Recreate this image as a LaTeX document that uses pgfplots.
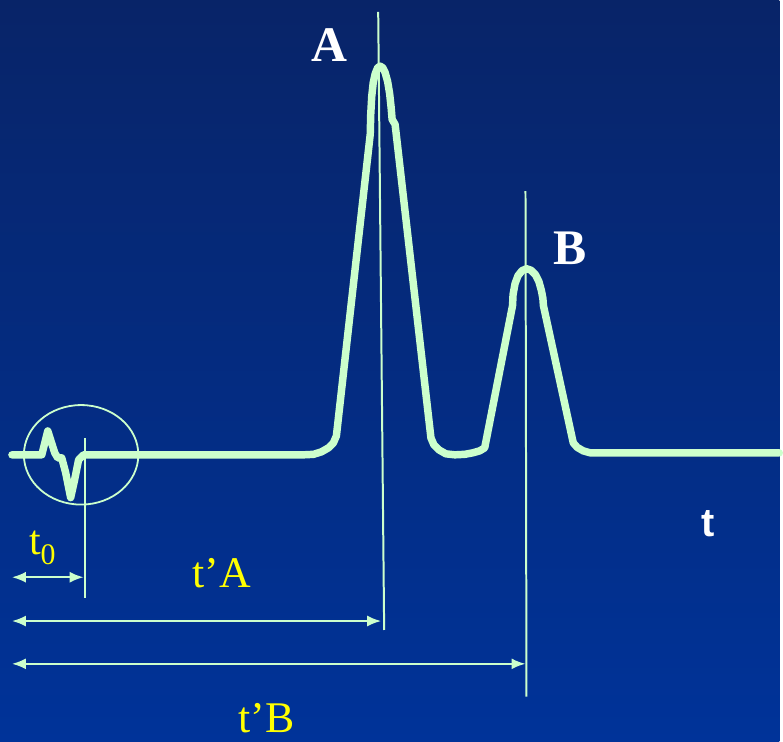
\documentclass[border=0pt]{standalone}
\usepackage{pgfplots}
\pgfplotsset{compat=1.18}
\usepackage{fontspec}
\setmainfont{Liberation Serif}
\newfontfamily\arialb{Liberation Sans}[BoldFont={* Bold}]
\usetikzlibrary{arrows.meta}
\definecolor{trace}{RGB}{204,255,204}
\definecolor{bgtop}{RGB}{8,36,104}
\definecolor{bgmid}{RGB}{0,48,142}
\definecolor{bgbot}{RGB}{0,51,153}
\definecolor{ylw}{RGB}{255,255,0}
\begin{document}
\begin{tikzpicture}
\begin{axis}[
  width=783pt, height=745pt, scale only axis,
  xmin=0, xmax=783, ymin=0, ymax=745, y dir=reverse,
  hide axis, clip=false,
]
\fill[top color=bgtop, middle color=bgmid, bottom color=bgbot, shading angle=0]
  (axis cs:0,0) rectangle (axis cs:783,745);
% chromatogram trace
\addplot[trace, line width=7.5pt, line join=round, line cap=round] coordinates {
(12,457)(42,457)(48,433)(55,455)(58,460)(62,460)(66,475)(71,500)(75,482)(79,462)(84,457)
(305,457)(315,456.5)(323,454)(330,450)(335,445)(338,438)
(372,135)(372.5,115)(373.5,97)(375,83)(377,74)(379.5,68)(382,66.5)(384.5,68)(387,73)(389.5,82)(391.5,94)(393,108)(394,120)(397,125)
(433,440)(436,447)(441,452)(448,456)(457,457)(467,456.5)(475,455)(482,453)(487,450)
(515,307)(515.5,296)(517.5,285)(520.5,277)(524.5,272)(529,270)(533.5,271.5)(538,276)(541.5,283)(544,292)(545.5,300)(546,307)
(576,445)(580,449.5)(586,453)(593,455)(620,455)(783,455)
};
% vertical markers
\addplot[trace, line width=2pt] coordinates {(85,440)(85,601)};
\addplot[trace, line width=2pt] coordinates {(380,12)(386,633)};
\addplot[trace, line width=2pt] coordinates {(528,192)(529,700)};
% arrows
\addplot[trace, line width=2pt, {Latex[length=14pt,width=11pt]}-{Latex[length=14pt,width=11pt]}] coordinates {(12,580)(84,580)};
\addplot[trace, line width=2pt, {Latex[length=14pt,width=11pt]}-{Latex[length=14pt,width=11pt]}] coordinates {(12,624)(383,624)};
\addplot[trace, line width=2pt, {Latex[length=14pt,width=11pt]}-{Latex[length=14pt,width=11pt]}] coordinates {(12,667)(528,667)};
% ellipse
\draw[trace, line width=1.8pt] (axis cs:81.5,457) ellipse [x radius=57.5pt, y radius=50pt];
% labels
\node[white, font=\fontsize{50}{50}\selectfont\bfseries] at (axis cs:331,45) {A};
\node[white, font=\fontsize{50}{50}\selectfont\bfseries] at (axis cs:573,249) {B};
\node[white, font=\arialb\fontsize{40}{40}\selectfont\bfseries] at (axis cs:712,526) {t};
\node[ylw, font=\fontsize{42}{42}\selectfont, anchor=base west, inner sep=0pt] at (axis cs:29,557) {t\raisebox{-10pt}{\fontsize{30}{30}\selectfont 0}};
\node[ylw, font=\fontsize{44}{44}\selectfont, anchor=base, inner sep=0pt] at (axis cs:223,590) {t’A};
\node[ylw, font=\fontsize{44}{44}\selectfont, anchor=base, inner sep=0pt] at (axis cs:268,736) {t’B};
\end{axis}
\end{tikzpicture}
\end{document}
